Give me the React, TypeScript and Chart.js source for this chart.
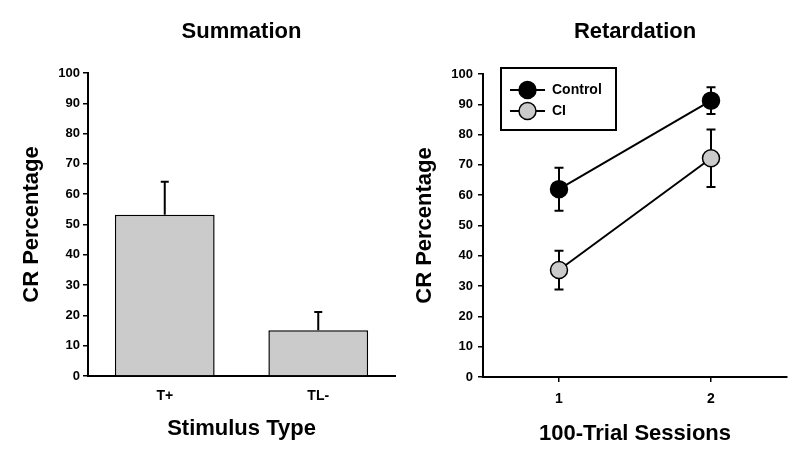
import React, { useEffect, useRef } from "react";
import { Chart, registerables } from "chart.js";

Chart.register(...registerables);

// ---- Data ----
const sumCategories = ["T+", "TL-"];
const sumValues = [53.2, 15.1];
const sumErrors = [10.9, 6.0];

const retSessions = ["1", "2"];
const controlValues = [62.0, 91.2];
const controlErrors = [7.1, 4.4];
const ciValues = [35.3, 72.2];
const ciErrors = [6.4, 9.5];

const seriesLabels = ["Control", "CI"];

const FONT = "'Liberation Sans', Arial, Helvetica, sans-serif";
const BLACK = "#000000";
const GREY = "#cbcbcb";

function drawErrorBars(chart: any, opts: any) {
  const ctx = chart.ctx;
  const yScale = chart.scales.y;
  chart.data.datasets.forEach((ds: any, i: number) => {
    const errs: number[] | undefined = ds.errors;
    if (!errs) return;
    const meta = chart.getDatasetMeta(i);
    meta.data.forEach((el: any, j: number) => {
      const v = ds.data[j] as number;
      const e = errs[j];
      const px = el.x;
      const top = yScale.getPixelForValue(v + e);
      const bot = opts.upOnly ? el.y : yScale.getPixelForValue(v - e);
      const half = opts.capWidth / 2;
      ctx.save();
      ctx.strokeStyle = BLACK;
      ctx.lineWidth = opts.lineWidth;
      ctx.beginPath();
      ctx.moveTo(px, bot);
      ctx.lineTo(px, top);
      ctx.moveTo(px - half, top);
      ctx.lineTo(px + half, top);
      if (!opts.upOnly) {
        ctx.moveTo(px - half, bot);
        ctx.lineTo(px + half, bot);
      }
      ctx.stroke();
      ctx.restore();
    });
  });
}

const errorBarsPlugin = {
  id: "errorBars",
  beforeDatasetsDraw(chart: any, _args: any, opts: any) {
    if (opts.layer === "before") drawErrorBars(chart, opts);
  },
  afterDatasetsDraw(chart: any, _args: any, opts: any) {
    if (opts.layer !== "before") drawErrorBars(chart, opts);
  },
};

const boxLegendPlugin = {
  id: "boxLegend",
  afterDraw(chart: any, _args: any, opts: any) {
    if (!opts || !opts.display) return;
    const { ctx, chartArea } = chart;
    const x0 = chartArea.left + opts.offsetX;
    const y0 = chartArea.top + opts.offsetY;
    ctx.save();
    ctx.strokeStyle = BLACK;
    ctx.lineWidth = 2;
    ctx.fillStyle = "#ffffff";
    ctx.fillRect(x0, y0, opts.width, opts.height);
    ctx.strokeRect(x0, y0, opts.width, opts.height);
    chart.data.datasets.forEach((ds: any, i: number) => {
      const cy = y0 + opts.firstRow + i * opts.rowGap;
      const lx = x0 + opts.lineStart;
      ctx.beginPath();
      ctx.lineWidth = 2;
      ctx.moveTo(lx, cy);
      ctx.lineTo(lx + opts.lineLength, cy);
      ctx.stroke();
      ctx.beginPath();
      ctx.arc(lx + opts.lineLength / 2, cy, opts.radius, 0, Math.PI * 2);
      ctx.fillStyle = ds.pointBackgroundColor;
      ctx.fill();
      ctx.lineWidth = 1.5;
      ctx.stroke();
      ctx.fillStyle = BLACK;
      ctx.font = `bold ${opts.fontSize}px ${FONT}`;
      ctx.textBaseline = "middle";
      ctx.textAlign = "left";
      ctx.fillText(ds.label, lx + opts.lineLength + opts.textGap, cy);
    });
    ctx.restore();
  },
};

export default function App() {
  const leftRef = useRef<HTMLCanvasElement>(null);
  const rightRef = useRef<HTMLCanvasElement>(null);

  useEffect(() => {
    const tickFontY = { family: FONT, size: 13, weight: "bold" as const };
    const tickFontX = { family: FONT, size: 14, weight: "bold" as const };
    const titleFont = { family: FONT, size: 22, weight: "bold" as const };
    const axisTitleFont = { family: FONT, size: 22, weight: "bold" as const };
    const xTitleFont = { family: FONT, size: 22, weight: "bold" as const };

    const left = new Chart(leftRef.current as HTMLCanvasElement, {
      type: "bar",
      data: {
        labels: sumCategories,
        datasets: [
          {
            data: sumValues,
            backgroundColor: GREY,
            borderColor: BLACK,
            borderWidth: 1.5,
            barPercentage: 0.65,
            categoryPercentage: 1,
            errors: sumErrors,
          } as any,
        ],
      },
      options: {
        responsive: false,
        animation: false,
        layout: { padding: { left: 0, right: 5, top: 0, bottom: 0 } },
        plugins: {
          legend: { display: false },
          tooltip: { enabled: false },
          title: {
            display: true,
            text: "Summation",
            color: BLACK,
            font: titleFont,
            fullSize: false,
            padding: { top: 19, bottom: 27.6 },
          },
          errorBars: { layer: "after", upOnly: true, capWidth: 8, lineWidth: 2 },
        } as any,
        scales: {
          x: {
            grid: { display: false, drawTicks: false },
            border: { display: true, color: BLACK, width: 2 },
            ticks: { color: BLACK, font: tickFontX, padding: 11.6 },
            title: {
              display: true,
              text: "Stimulus Type",
              color: BLACK,
              font: xTitleFont,
              padding: { top: 0, bottom: 20 },
            },
            afterFit: (s: any) => {
              s.height = 86;
            },
          },
          y: {
            min: 0,
            max: 100,
            ticks: { stepSize: 10, color: BLACK, font: tickFontY, padding: 3 },
            grid: {
              drawOnChartArea: false,
              drawTicks: true,
              tickLength: 5,
              color: BLACK,
              lineWidth: 1.5,
            },
            border: { display: true, color: BLACK, width: 2 },
            title: {
              display: true,
              text: "CR Percentage",
              color: BLACK,
              font: axisTitleFont,
              padding: { top: 19, bottom: 0 },
            },
            afterFit: (s: any) => {
              s.width = 88;
            },
          },
        },
      },
      plugins: [errorBarsPlugin],
    });

    const right = new Chart(rightRef.current as HTMLCanvasElement, {
      type: "line",
      data: {
        labels: retSessions,
        datasets: [
          {
            label: seriesLabels[0],
            data: controlValues,
            errors: controlErrors,
            borderColor: BLACK,
            borderWidth: 2,
            pointBackgroundColor: BLACK,
            pointBorderColor: BLACK,
            pointBorderWidth: 1.5,
            pointRadius: 8.5,
            fill: false,
          } as any,
          {
            label: seriesLabels[1],
            data: ciValues,
            errors: ciErrors,
            borderColor: BLACK,
            borderWidth: 2,
            pointBackgroundColor: GREY,
            pointBorderColor: BLACK,
            pointBorderWidth: 1.5,
            pointRadius: 8.5,
            fill: false,
          } as any,
        ],
      },
      options: {
        responsive: false,
        animation: false,
        layout: { padding: { left: 0, right: 13, top: 0, bottom: 0 } },
        plugins: {
          legend: { display: false },
          tooltip: { enabled: false },
          title: {
            display: true,
            text: "Retardation",
            color: BLACK,
            font: titleFont,
            fullSize: false,
            padding: { top: 19, bottom: 28.6 },
          },
          errorBars: { layer: "before", upOnly: false, capWidth: 9, lineWidth: 2 },
          boxLegend: {
            display: true,
            offsetX: 18,
            offsetY: -6,
            width: 115,
            height: 62,
            firstRow: 22,
            rowGap: 21,
            lineStart: 9,
            lineLength: 35,
            radius: 8.5,
            textGap: 7,
            fontSize: 14,
          },
        } as any,
        scales: {
          x: {
            type: "category",
            offset: true,
            grid: {
              display: true,
              offset: false,
              drawOnChartArea: false,
              drawTicks: true,
              tickLength: 5,
              color: BLACK,
              lineWidth: 1.5,
            },
            border: { display: true, color: BLACK, width: 2 },
            ticks: { color: BLACK, font: tickFontX, padding: 8.6 },
            title: {
              display: true,
              text: "100-Trial Sessions",
              color: BLACK,
              font: xTitleFont,
              padding: { top: 0, bottom: 15 },
            },
            afterFit: (s: any) => {
              s.height = 85;
            },
          },
          y: {
            min: 0,
            max: 100,
            ticks: { stepSize: 10, color: BLACK, font: tickFontY, padding: 5 },
            grid: {
              drawOnChartArea: false,
              drawTicks: true,
              tickLength: 5,
              color: BLACK,
              lineWidth: 1.5,
            },
            border: { display: true, color: BLACK, width: 2 },
            title: {
              display: true,
              text: "CR Percentage",
              color: BLACK,
              font: axisTitleFont,
              padding: { top: 11.5, bottom: 0 },
            },
            afterFit: (s: any) => {
              s.width = 83;
            },
          },
        },
      },
      plugins: [errorBarsPlugin, boxLegendPlugin],
    });

    return () => {
      left.destroy();
      right.destroy();
    };
  }, []);

  return (
    <div
      style={{
        position: "absolute",
        left: 0,
        top: 0,
        width: 800,
        height: 462,
        background: "#ffffff",
        overflow: "hidden",
      }}
    >
      <canvas
        ref={leftRef}
        width={400}
        height={462}
        style={{ position: "absolute", left: 0, top: 0 }}
      />
      <canvas
        ref={rightRef}
        width={400}
        height={462}
        style={{ position: "absolute", left: 400, top: 0 }}
      />
    </div>
  );
}
